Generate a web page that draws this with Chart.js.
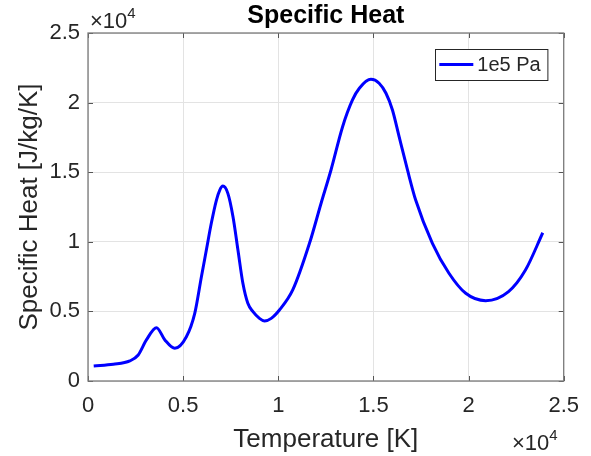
<!DOCTYPE html>
<html>
<head>
<meta charset="utf-8">
<script src="https://cdn.jsdelivr.net/npm/chart.js@4.4.0/dist/chart.umd.min.js"></script>
<style>
    body { margin: 0; background: #fff; }
    #wrap { width: 591px; height: 456px; position: relative; }
</style>
</head>
<body>
<div id="wrap"><canvas id="heatChart"></canvas></div>
<script>
// Specific heat of air at 1e5 Pa
const temperature = [300, 1330, 2200, 2640, 3070, 3600, 4040, 4560, 5170, 5610, 5960, 6220, 6480, 6750,
    6920, 7090, 7350, 7620, 7880, 8140, 8400, 8670, 9010, 9280, 9630, 10060, 10760, 11640, 12250, 12770,
    13380, 13900, 14260, 14870, 15300, 15660, 16000, 16350, 16790, 17220, 18100, 18970, 19850,
    20900, 22100, 22990, 23900];
const specificHeat = [1080, 1200, 1440, 1870, 2950, 3830, 2950, 2350, 3180, 4860, 7490, 9410, 11330, 13000,
    13700, 14000, 13480, 11800, 9410, 7020, 5580, 4980, 4500, 4310, 4500, 5100, 6540, 9890, 12770, 15160,
    18270, 20190, 21030, 21670, 21390, 20670, 19470, 17550, 15160, 13000, 9890, 7740, 6300,
    5770, 6420, 7970, 10650];
const seriesLabel = '1e5 Pa';

const xTicks = [0, 5000, 10000, 15000, 20000, 25000];
const yTicks = [0, 5000, 10000, 15000, 20000, 25000];

const textColor = '#262626';
const fontFamily = '"Liberation Sans", Arial, Helvetica, sans-serif';

// box, inward ticks, exponent labels and legend, drawn the MATLAB way
const matlabAxes = {
    id: 'matlabAxes',
    afterDatasetsDraw(chart) {
        const ctx = chart.ctx;
        const a = chart.chartArea;
        const xs = chart.scales.x, ys = chart.scales.y;
        ctx.save();

        // inward tick marks on all four sides
        ctx.strokeStyle = '#555';
        ctx.lineWidth = 1;
        ctx.beginPath();
        xTicks.forEach(v => {
            const px = Math.round(xs.getPixelForValue(v)) + 0.5;
            ctx.moveTo(px, a.bottom); ctx.lineTo(px, a.bottom - 5);
            ctx.moveTo(px, a.top); ctx.lineTo(px, a.top + 5);
        });
        yTicks.forEach(v => {
            const py = Math.round(ys.getPixelForValue(v)) + 0.5;
            ctx.moveTo(a.left, py); ctx.lineTo(a.left + 5, py);
            ctx.moveTo(a.right, py); ctx.lineTo(a.right - 5, py);
        });
        ctx.stroke();

        // axes box
        ctx.strokeStyle = '#7a7a7a';
        ctx.lineWidth = 1.3;
        ctx.strokeRect(a.left, a.top, a.right - a.left, a.bottom - a.top);

        // x10^4 exponent labels
        ctx.fillStyle = textColor;
        ctx.textBaseline = 'alphabetic';
        ctx.textAlign = 'left';
        ctx.font = '22px ' + fontFamily;
        ctx.fillText('\u00d710', a.left + 2, 28);
        let w = ctx.measureText('\u00d710').width;
        ctx.font = '15px ' + fontFamily;
        ctx.fillText('4', a.left + 2 + w, 18);

        ctx.font = '22px ' + fontFamily;
        ctx.fillText('\u00d710', 512, 450);
        w = ctx.measureText('\u00d710').width;
        ctx.font = '15px ' + fontFamily;
        ctx.fillText('4', 512 + w, 440);

        // legend box in the upper right corner
        const ds = chart.data.datasets[0];
        ctx.font = '20px ' + fontFamily;
        const tw = ctx.measureText(ds.label).width;
        const bw = 4 + 34 + 4 + tw + 7;
        const bh = 31;
        const bx = a.right - 16 - bw;
        const by = a.top + 16;
        ctx.fillStyle = '#fff';
        ctx.fillRect(bx, by, bw, bh);
        ctx.strokeStyle = '#262626';
        ctx.lineWidth = 1;
        ctx.strokeRect(Math.round(bx) + 0.5, Math.round(by) + 0.5, bw, bh);
        ctx.strokeStyle = ds.borderColor;
        ctx.lineWidth = 3;
        ctx.beginPath();
        ctx.moveTo(bx + 4, by + bh / 2);
        ctx.lineTo(bx + 38, by + bh / 2);
        ctx.stroke();
        ctx.fillStyle = textColor;
        ctx.textBaseline = 'middle';
        ctx.fillText(ds.label, bx + 42, by + bh / 2 + 1);

        ctx.restore();
    }
};

const points = temperature.map((t, i) => ({ x: t, y: specificHeat[i] }));

new Chart(document.getElementById('heatChart'), {
    type: 'line',
    data: {
        datasets: [{
            label: seriesLabel,
            data: points,
            borderColor: '#0000ff',
            borderWidth: 3,
            pointRadius: 0,
            fill: false,
            cubicInterpolationMode: 'monotone'
        }]
    },
    options: {
        responsive: true,
        maintainAspectRatio: false,
        animation: false,
        layout: { padding: { left: 0, right: 26, top: 0, bottom: 0 } },
        plugins: {
            legend: { display: false },
            tooltip: { enabled: false },
            title: {
                display: true,
                text: 'Specific Heat',
                fullSize: false,
                color: '#000',
                font: { family: fontFamily, size: 25, weight: 'bold', lineHeight: 1 },
                padding: { top: 4, bottom: 4 }
            }
        },
        scales: {
            x: {
                type: 'linear',
                min: 0,
                max: 25000,
                afterFit: scale => { scale.height = 75; },
                afterBuildTicks: scale => { scale.ticks = xTicks.map(v => ({ value: v })); },
                grid: { color: '#e3e3e3', drawTicks: false },
                border: { display: false },
                ticks: {
                    color: textColor,
                    padding: 12,
                    maxRotation: 0,
                    font: { family: fontFamily, size: 22 },
                    callback: v => String(v / 10000)
                },
                title: {
                    display: true,
                    text: 'Temperature [K]',
                    color: textColor,
                    font: { family: fontFamily, size: 26, lineHeight: 1 },
                    padding: { top: 0, bottom: 3 }
                }
            },
            y: {
                min: 0,
                max: 25000,
                afterFit: scale => { scale.width = 88; },
                afterBuildTicks: scale => { scale.ticks = yTicks.map(v => ({ value: v })); },
                grid: { color: '#e3e3e3', drawTicks: false },
                border: { display: false },
                ticks: {
                    color: textColor,
                    padding: 8,
                    font: { family: fontFamily, size: 22 },
                    callback: v => String(v / 10000)
                },
                title: {
                    display: true,
                    text: 'Specific Heat [J/kg/K]',
                    color: textColor,
                    font: { family: fontFamily, size: 26, lineHeight: 1 },
                    padding: { top: 17, bottom: 0 }
                }
            }
        }
    },
    plugins: [matlabAxes]
});
</script>
</body>
</html>
